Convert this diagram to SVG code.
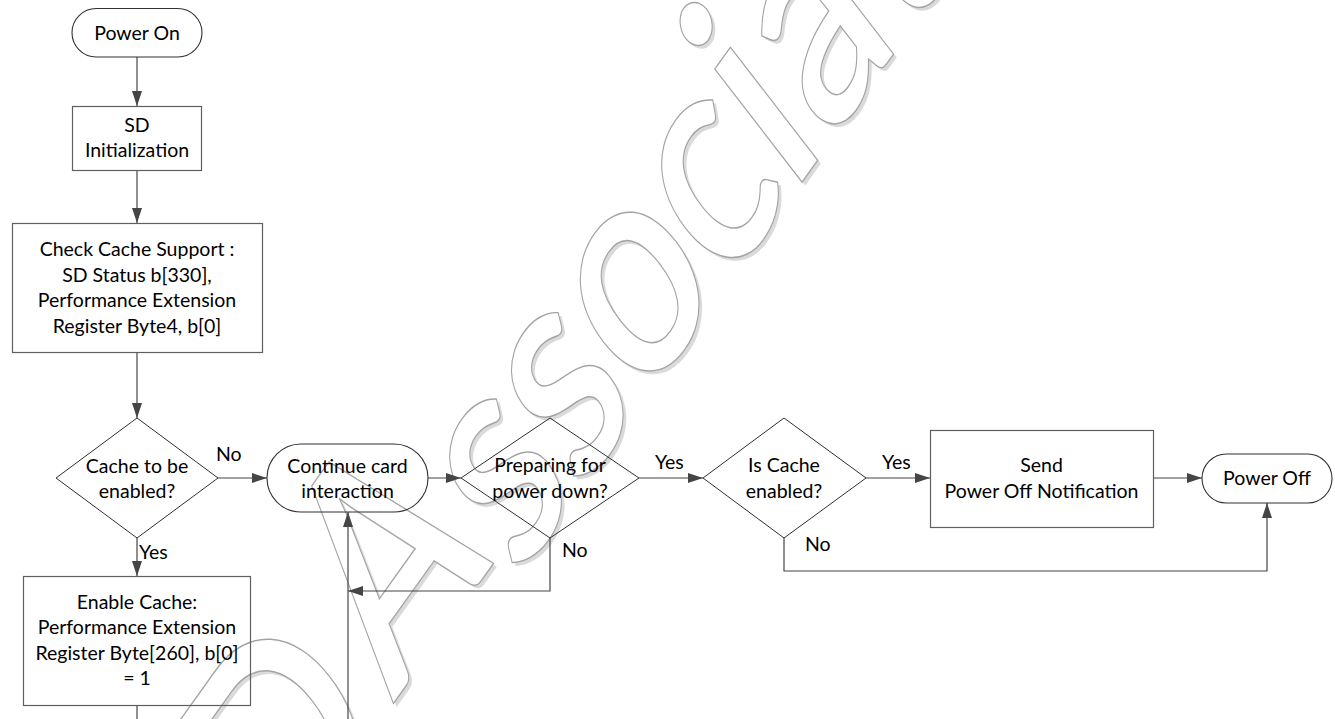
<svg xmlns="http://www.w3.org/2000/svg" width="1335" height="719" viewBox="0 0 1335 719">
<style>
.t{font-family:Lato,"Liberation Sans",sans-serif;font-size:19.5px;fill:#000;text-anchor:middle}
.l{font-family:Lato,"Liberation Sans",sans-serif;font-size:19.5px;fill:#000}
.box{fill:none;stroke:#5f5f5f;stroke-width:1.2}
.term{fill:none;stroke:#303030;stroke-width:1.1}
.dia{fill:none;stroke:#303030;stroke-width:1}
.c{fill:none;stroke:#454545;stroke-width:1.2}
.wm{font-family:Lato,"Liberation Sans",sans-serif;font-size:92px;font-weight:600;text-anchor:middle}
</style>
<defs>
<marker id="ah" markerUnits="userSpaceOnUse" markerWidth="15" markerHeight="10" refX="15" refY="5" orient="auto">
<path d="M0,0 L15,5 L0,10 z" fill="#454545"/>
</marker>
</defs>
<rect width="1335" height="719" fill="#fff"/>
<g id="watermark">
<text class="wm" transform="matrix(1.58,-2.21,1.86,2.41,686.5,351.5)" fill="#dadada" stroke="none" x="-269.5 -215.8 -140 -85 -45.9 0 47.5 80.1 115.5 156.2 184.4 222.2 274.8" y="0 0 -10 0 0 0 0 0 0 0 0 0 0">SDAssociation</text>
<text class="wm" transform="matrix(1.58,-2.21,1.86,2.41,683.3,348.2)" fill="#fff" stroke="#a3a3a3" stroke-width="1.3" vector-effect="non-scaling-stroke" x="-269.5 -215.8 -140 -85 -45.9 0 47.5 80.1 115.5 156.2 184.4 222.2 274.8" y="0 0 -10 0 0 0 0 0 0 0 0 0 0">SDAssociation</text>
</g>
<g id="connectors">
<line class="c" x1="137" y1="57" x2="137" y2="106" marker-end="url(#ah)"/>
<line class="c" x1="137" y1="171" x2="137" y2="223" marker-end="url(#ah)"/>
<line class="c" x1="137" y1="353" x2="137" y2="418" marker-end="url(#ah)"/>
<line class="c" x1="218" y1="478" x2="267" y2="478" marker-end="url(#ah)"/>
<line class="c" x1="137" y1="538" x2="137" y2="576" marker-end="url(#ah)"/>
<line class="c" x1="137" y1="705" x2="137" y2="719"/>
<line class="c" x1="348" y1="719" x2="348" y2="512" marker-end="url(#ah)"/>
<line class="c" x1="428" y1="478" x2="461" y2="478" marker-end="url(#ah)"/>
<path class="c" d="M550,538 V591 H348" marker-end="url(#ah)"/>
<line class="c" x1="639" y1="478" x2="703" y2="478" marker-end="url(#ah)"/>
<line class="c" x1="866" y1="478" x2="930" y2="478" marker-end="url(#ah)"/>
<line class="c" x1="1153" y1="478" x2="1202" y2="478" marker-end="url(#ah)"/>
<path class="c" d="M784,538 V571 H1267 V503" marker-end="url(#ah)"/>
<text class="l" x="216" y="461">No</text>
<text class="l" x="139" y="559">Yes</text>
<text class="l" x="655" y="469">Yes</text>
<text class="l" x="562" y="557">No</text>
<text class="l" x="805" y="551">No</text>
<text class="l" x="882" y="469">Yes</text>
</g>
<g id="power-on">
<rect class="term" x="72" y="8.5" width="130" height="48.5" rx="24.25"/>
<text class="t" x="137" y="40">Power On</text>
</g>
<g id="sd-init">
<rect class="box" x="72.5" y="106.5" width="129" height="64"/>
<text class="t" x="137" y="131.5">SD</text>
<text class="t" x="137" y="157">Initialization</text>
</g>
<g id="check-cache">
<rect class="box" x="12.5" y="223.5" width="250" height="129"/>
<text class="t" x="137" y="256">Check Cache Support :</text>
<text class="t" x="137" y="281.5">SD Status b[330],</text>
<text class="t" x="137" y="307">Performance Extension</text>
<text class="t" x="137" y="332.5">Register Byte4, b[0]</text>
</g>
<g id="cache-to-be-enabled">
<polygon class="dia" points="137,418 218,478 137,538 56,478"/>
<text class="t" x="137" y="472.5">Cache to be</text>
<text class="t" x="137" y="498">enabled?</text>
</g>
<g id="enable-cache">
<rect class="box" x="23.5" y="576.5" width="227" height="129"/>
<text class="t" x="137" y="608.5">Enable Cache:</text>
<text class="t" x="137" y="634">Performance Extension</text>
<text class="t" x="137" y="659.5">Register Byte[260], b[0]</text>
<text class="t" x="137" y="685">= 1</text>
</g>
<g id="continue">
<rect class="term" x="267" y="444" width="161" height="68" rx="34"/>
<text class="t" x="347.5" y="472.5">Continue card</text>
<text class="t" x="347.5" y="498">interaction</text>
</g>
<g id="preparing">
<polygon class="dia" points="550,418 639,478 550,538 461,478"/>
<text class="t" x="550" y="472">Preparing for</text>
<text class="t" x="550" y="497.5">power down?</text>
</g>
<g id="is-cache-enabled">
<polygon class="dia" points="784,418 866,478 784,538 703,478"/>
<text class="t" x="784" y="472">Is Cache</text>
<text class="t" x="784" y="497.5">enabled?</text>
</g>
<g id="send">
<rect class="box" x="930.5" y="430.5" width="223" height="97"/>
<text class="t" x="1041.5" y="472">Send</text>
<text class="t" x="1041.5" y="497.5">Power Off Notification</text>
</g>
<g id="power-off">
<rect class="term" x="1202" y="454" width="130" height="49" rx="24.5"/>
<text class="t" x="1267" y="485">Power Off</text>
</g>
</svg>
